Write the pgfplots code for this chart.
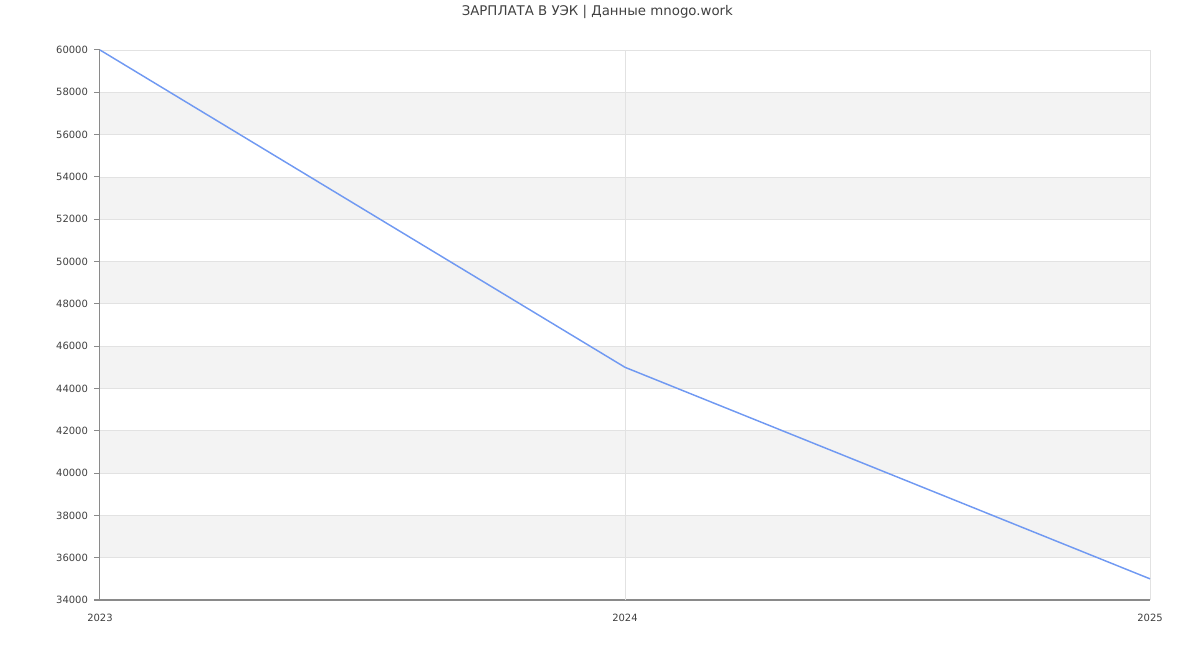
\documentclass[border=0pt]{standalone}
\usepackage{pgfplots}
\pgfplotsset{compat=1.18}
\usepackage{fontspec}
\setmainfont{DejaVu Sans}
\definecolor{lineblue}{HTML}{7099F2}
\definecolor{band}{HTML}{F3F3F3}
\definecolor{gridc}{HTML}{E2E2E2}
\definecolor{axisc}{HTML}{8A8A8A}
\definecolor{txt}{HTML}{404040}
\begin{document}
\begin{tikzpicture}
\useasboundingbox (-75pt,-37.5pt) rectangle (825pt,450pt);
\begin{axis}[
    at={(0,0)}, anchor=south west,
    scale only axis,
    width=787.5pt, height=412.5pt,
    xmin=2023, xmax=2025,
    ymin=34000, ymax=60000,
    xtick={2023,2024,2025},
    ytick={34000,36000,...,60000},
    scaled y ticks=false,
    /pgf/number format/assume math mode=true,
    xticklabel style={/pgf/number format/1000 sep={}, font=\fontsize{7.5}{9}\selectfont, text=txt, yshift=-2.5pt},
    yticklabel style={/pgf/number format/1000 sep={}, font=\fontsize{7.5}{9}\selectfont, text=txt, xshift=-1pt},
    axis x line*=bottom,
    axis y line*=left,
    axis line style={axisc, line width=0.75pt},
    x axis line style={-}, y axis line style={-},
    tick align=outside,
    major tick length=4.5pt,
    xtick style={draw=none},
    ytick style={axisc, line width=0.75pt},
    clip=false,
]
% alternating bands
\addplot[fill=band, draw=none] coordinates {(2023,56000)(2025,56000)(2025,58000)(2023,58000)} -- cycle;
\addplot[fill=band, draw=none] coordinates {(2023,52000)(2025,52000)(2025,54000)(2023,54000)} -- cycle;
\addplot[fill=band, draw=none] coordinates {(2023,48000)(2025,48000)(2025,50000)(2023,50000)} -- cycle;
\addplot[fill=band, draw=none] coordinates {(2023,44000)(2025,44000)(2025,46000)(2023,46000)} -- cycle;
\addplot[fill=band, draw=none] coordinates {(2023,40000)(2025,40000)(2025,42000)(2023,42000)} -- cycle;
\addplot[fill=band, draw=none] coordinates {(2023,36000)(2025,36000)(2025,38000)(2023,38000)} -- cycle;
% grid lines
\pgfplotsinvokeforeach{36000,38000,40000,42000,44000,46000,48000,50000,52000,54000,56000,58000,60000}{
  \addplot[gridc, line width=0.6pt] coordinates {(2023,#1)(2025,#1)};
}
\addplot[gridc, line width=0.6pt] coordinates {(2024,34000)(2024,60000)};
\addplot[gridc, line width=0.6pt] coordinates {(2025,34000)(2025,60000)};
% data
\addplot[lineblue, line width=1.1pt, mark=none] coordinates {(2023,60000)(2024,45000)(2025,35000)};
\end{axis}
\node[text=txt, font=\fontsize{10}{12}\selectfont] at (373pt,441pt) {ЗАРПЛАТА В УЭК | Данные mnogo.work};
\end{tikzpicture}
\end{document}
